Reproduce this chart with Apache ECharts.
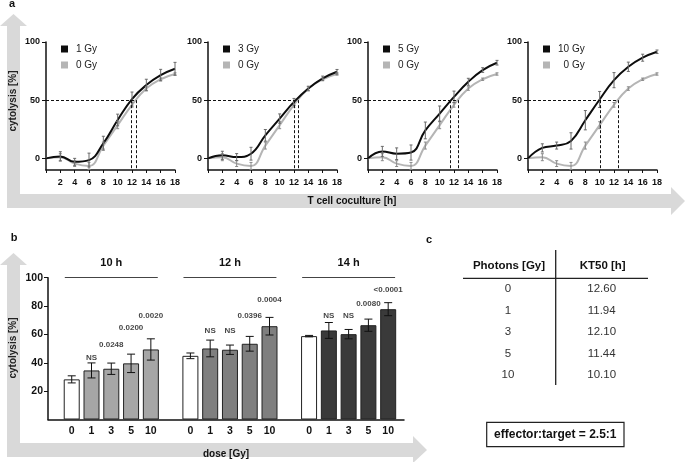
<!DOCTYPE html>
<html>
<head>
<meta charset="utf-8">
<script src="https://cdn.jsdelivr.net/npm/echarts@6/dist/echarts.min.js"></script>
<style>
html, body { margin: 0; padding: 0; background: #fff; }
#chart { width: 685px; height: 462px; }
</style>
</head>
<body>
<div id="chart"></div>
<script>
// ---- panel a: killing kinetics (cytolysis % over coculture time) ----
const hours = [0, 2, 4, 6, 8, 10, 12, 14, 16, 18];
const ctrl0Gy = [0, 1, -4.5, -6.5, 11, 28.5, 46, 60, 68, 72.5];
const ctrl0GyErr = [0, 3, 2.5, 3, 3, 3, 2, 1.5, 1, 1];
const irrDoses = [1, 3, 5, 10];
const irrCurves = [
    [0, 1.7, -3, -1.5, 13, 33, 51, 63, 71.5, 77],
    [0, 2.6, 1.1, 4, 19.8, 34.2, 48.5, 60, 68.7, 74.4],
    [0, 6, 4, 5, 24, 38.5, 52.8, 65.8, 75.9, 82.2],
    [0, 9, 11, 15, 32.8, 50.6, 67.2, 78.7, 86.5, 91.6]
];
const irrErrs = [
    [0, 4, 3, 6, 6, 5, 6, 5, 5, 5.5],
    [0, 3.5, 3, 5.5, 5, 4, 3, 2, 2, 2],
    [0, 4.3, 5, 6.5, 7.2, 6.5, 5, 3, 2, 2],
    [0, 3.5, 3, 7, 8.3, 6.9, 6.5, 4, 3, 1.5]
];

// ---- panel c: KT50 table ----
const tableDoses = [0, 1, 3, 5, 10];
const kt50 = [12.60, 11.94, 12.10, 11.44, 10.10];

// ---- panel b: cytolysis at fixed time points ----
const timePoints = ['10 h', '12 h', '14 h'];
const doseLabels = ['0', '1', '3', '5', '10'];
const barMeans = [
    [28.3, 34.6, 35.8, 39.6, 49.4],
    [44.9, 50.1, 49.2, 53.4, 65.8],
    [58.8, 62.8, 60.2, 66.5, 77.8]
];
const barErrs = [
    [2.5, 5.3, 4, 6.5, 7.5],
    [2, 5.9, 3.3, 5.2, 6.2],
    [0.5, 5.6, 3.3, 4.3, 4.6]
];
const pValues = [
    ['', 'NS', '0.0248', '0.0200', '0.0020'],
    ['', 'NS', 'NS', '0.0396', '0.0004'],
    ['', 'NS', 'NS', '0.0080', '<0.0001']
];
const pValueAt = [
    [null, 43.5, 52.5, 64.6, 73.1],
    [null, 62.3, 62.3, 72.9, 84.2],
    [null, 73.1, 73.1, 81.3, 91.2]
];

const FONT = "'Liberation Sans', Arial, sans-serif";
const groupColors = ['#a6a6a6', '#7f7f7f', '#3a3a3a'];
const arrowGray = '#d9d9d9';

function errorBars(xi, yi, data, color, cap, z) {
    return {
        type: 'custom', xAxisIndex: xi, yAxisIndex: yi, data: data, silent: true, z: z,
        encode: { x: 0, y: [1, 2] },
        renderItem(params, api) {
            const x = api.value(0);
            const a = api.coord([x, api.value(1)]);
            const b = api.coord([x, api.value(2)]);
            const st = { stroke: color, lineWidth: 1 };
            return {
                type: 'group', children: [
                    { type: 'line', shape: { x1: a[0], y1: a[1], x2: b[0], y2: b[1] }, style: st },
                    { type: 'line', shape: { x1: a[0] - cap, y1: a[1], x2: a[0] + cap, y2: a[1] }, style: st },
                    { type: 'line', shape: { x1: b[0] - cap, y1: b[1], x2: b[0] + cap, y2: b[1] }, style: st }
                ]
            };
        }
    };
}

const grids = [], xAxes = [], yAxes = [], series = [], legends = [];
const plotLefts = [46, 208, 368, 528];

irrDoses.forEach((dose, i) => {
    const left = plotLefts[i];
    grids.push({ left: left, top: 42, width: 129, height: 128 });
    xAxes.push({
        type: 'value', gridIndex: i, min: 0, max: 18, interval: 2,
        axisLine: { onZero: false, lineStyle: { color: '#111', width: 1.5 } },
        axisTick: { show: true, length: 3, lineStyle: { color: '#111' } },
        axisLabel: { formatter: v => (v === 0 ? '' : v), fontSize: 9, fontWeight: 'bold', color: '#111', margin: 8, fontFamily: FONT },
        splitLine: { show: false }
    });
    yAxes.push({
        type: 'value', gridIndex: i, min: -10, max: 100,
        axisLine: { show: true, onZero: false, lineStyle: { color: '#111', width: 1.5 } },
        axisTick: { show: true, length: 4, customValues: [0, 50, 100], lineStyle: { color: '#111' } },
        axisLabel: { customValues: [0, 50, 100], fontSize: 9, fontWeight: 'bold', color: '#111', margin: 6, fontFamily: FONT },
        splitLine: { show: false }
    });
    legends.push({
        left: left + 10, top: 38, orient: 'vertical', icon: 'rect',
        itemWidth: 7, itemHeight: 7, itemGap: 4, selectedMode: false,
        data: [dose + ' Gy', '0 Gy'],
        formatter: name => (dose >= 10 && name === '0 Gy' ? '  ' + name : name),
        textStyle: { fontSize: 10, lineHeight: 12, color: '#222', fontFamily: FONT, padding: [0, 0, 0, 3] }
    });
    const kt = kt50[i + 1];
    series.push({
        name: '0 Gy', type: 'line', xAxisIndex: i, yAxisIndex: i,
        data: hours.map((h, k) => [h, ctrl0Gy[k]]),
        smooth: 0.45, showSymbol: false, color: '#b5b5b5',
        lineStyle: { width: 2, color: '#b5b5b5' }, z: 2,
        markLine: {
            silent: true, symbol: 'none', animation: false,
            label: { show: false },
            lineStyle: { type: [3, 2], color: '#111', width: 1 },
            data: [
                [{ coord: [0, 50] }, { coord: [Math.max(kt, kt50[0]), 50] }],
                [{ coord: [kt, 50] }, { coord: [kt, -10] }],
                [{ coord: [kt50[0], 50] }, { coord: [kt50[0], -10] }]
            ]
        }
    });
    series.push({
        name: dose + ' Gy', type: 'line', xAxisIndex: i, yAxisIndex: i,
        data: hours.map((h, k) => [h, irrCurves[i][k]]),
        smooth: 0.45, showSymbol: false, color: '#0d0d0d',
        lineStyle: { width: 2, color: '#0d0d0d' }, z: 3
    });
    const ctrlBars = hours.map((h, k) => [h, ctrl0Gy[k] - ctrl0GyErr[k], ctrl0Gy[k] + ctrl0GyErr[k]])
        .filter((d, k) => ctrl0GyErr[k] > 0);
    const irrBars = hours.map((h, k) => [h, irrCurves[i][k] - irrErrs[i][k], irrCurves[i][k] + irrErrs[i][k]])
        .filter((d, k) => irrErrs[i][k] > 0);
    series.push(errorBars(i, i, ctrlBars, '#8a8a8a', 1.5, 4));
    series.push(errorBars(i, i, irrBars, '#6a6a6a', 1.5, 4));
});

// panel b (grid index 4)
const slot = doseLabels.length + 1;
const barPos = (g, k) => g * slot + k + 1;
const bIdx = 4;
grids.push({ left: 48, top: 277.7, width: 356, height: 141.8 });
const bTicks = [];
timePoints.forEach((t, g) => doseLabels.forEach((d, k) => bTicks.push(barPos(g, k))));
xAxes.push({
    type: 'value', gridIndex: bIdx, min: -0.2, max: 17.8,
    name: 'dose [Gy]', nameLocation: 'middle', nameGap: 30,
    nameTextStyle: { fontSize: 10, fontWeight: 'bold', color: '#111', fontFamily: FONT },
    axisLine: { onZero: false, lineStyle: { color: '#111', width: 1.5 } },
    axisTick: { show: false },
    axisLabel: {
        customValues: bTicks, fontSize: 10.5, fontWeight: 'bold', color: '#111', margin: 6, fontFamily: FONT,
        formatter: v => doseLabels[(Math.round(v) - 1) % slot]
    },
    splitLine: { show: false }
});
yAxes.push({
    type: 'value', gridIndex: bIdx, min: 0, max: 100,
    axisLine: { show: true, onZero: false, lineStyle: { color: '#111', width: 1.5 } },
    axisTick: { show: true, length: 4, customValues: [20, 40, 60, 80, 100], lineStyle: { color: '#111' } },
    axisLabel: { customValues: [20, 40, 60, 80, 100], fontSize: 10.5, fontWeight: 'bold', color: '#111', margin: 5, fontFamily: FONT },
    splitLine: { show: false }
});

const barData = [], barErrData = [], pData = [];
timePoints.forEach((t, g) => {
    doseLabels.forEach((d, k) => {
        const x = barPos(g, k);
        barData.push([x, barMeans[g][k]]);
        barErrData.push([x, barMeans[g][k] - barErrs[g][k], barMeans[g][k] + barErrs[g][k]]);
        if (pValues[g][k]) pData.push({ value: [x, pValueAt[g][k]], name: pValues[g][k] });
    });
});

series.push({
    type: 'bar', xAxisIndex: bIdx, yAxisIndex: bIdx, data: barData, barWidth: 16, z: 2,
    itemStyle: {
        color: p => (p.dataIndex % doseLabels.length === 0 ? '#ffffff' : groupColors[Math.floor(p.dataIndex / doseLabels.length)]),
        borderColor: '#222', borderWidth: 1
    },
    markLine: {
        silent: true, symbol: 'none', animation: false,
        lineStyle: { type: 'solid', color: '#444', width: 1 },
        label: {
            show: true, position: 'insideMiddleTop', distance: 9, formatter: '{b}',
            fontSize: 11, fontWeight: 'bold', color: '#111', fontFamily: FONT
        },
        data: timePoints.map((t, g) => [
            { coord: [barPos(g, 0) - 0.35, 100], name: t },
            { coord: [barPos(g, doseLabels.length - 1) + 0.35, 100] }
        ])
    }
});
series.push(errorBars(bIdx, bIdx, barErrData, '#111', 4, 5));
series.push({
    type: 'scatter', xAxisIndex: bIdx, yAxisIndex: bIdx, data: pData, symbolSize: 0, silent: true,
    label: { show: true, position: 'inside', formatter: '{b}', fontSize: 8, fontWeight: 'bold', color: '#111', fontFamily: FONT }
});

// ---- graphics: arrows, panel letters, table ----
const graphics = [
    {
        type: 'polygon', z: -10, silent: true,
        shape: { points: [[13.5, 14], [27, 26], [20, 26], [20, 194], [671, 194], [671, 187], [685, 201], [671, 215], [671, 208], [7, 208], [7, 26], [0, 26]] },
        style: { fill: arrowGray }
    },
    {
        type: 'polygon', z: -10, silent: true,
        shape: { points: [[13.5, 253], [27, 265], [20, 265], [20, 443], [413, 443], [413, 436], [427, 450], [413, 463], [413, 457], [7, 457], [7, 265], [0, 265]] },
        style: { fill: arrowGray }
    },
    { type: 'text', x: 13.5, y: 101, rotation: Math.PI / 2, style: { text: 'cytolysis [%]', font: 'bold 10px ' + FONT, fill: '#222', align: 'center', verticalAlign: 'middle' } },
    { type: 'text', x: 13.5, y: 348, rotation: Math.PI / 2, style: { text: 'cytolysis [%]', font: 'bold 10px ' + FONT, fill: '#222', align: 'center', verticalAlign: 'middle' } },
    { type: 'text', x: 352, y: 201, style: { text: 'T cell coculture [h]', font: 'bold 10px ' + FONT, fill: '#111', align: 'center', verticalAlign: 'middle' } },
    { type: 'text', x: 12, y: 4, style: { text: 'a', font: 'bold 11px ' + FONT, fill: '#111', align: 'center', verticalAlign: 'middle' } },
    { type: 'text', x: 14, y: 238, style: { text: 'b', font: 'bold 11px ' + FONT, fill: '#111', align: 'center', verticalAlign: 'middle' } },
    { type: 'text', x: 429, y: 240, style: { text: 'c', font: 'bold 11px ' + FONT, fill: '#111', align: 'center', verticalAlign: 'middle' } },
    // table
    { type: 'text', x: 509, y: 266, style: { text: 'Photons [Gy]', font: 'bold 11.5px ' + FONT, fill: '#111', align: 'center', verticalAlign: 'middle' } },
    { type: 'text', x: 602.7, y: 266, style: { text: 'KT50 [h]', font: 'bold 11.5px ' + FONT, fill: '#111', align: 'center', verticalAlign: 'middle' } },
    { type: 'line', shape: { x1: 463, y1: 278.3, x2: 648, y2: 278.3 }, style: { stroke: '#222', lineWidth: 1.3 } },
    { type: 'line', shape: { x1: 555.7, y1: 250, x2: 555.7, y2: 385 }, style: { stroke: '#222', lineWidth: 1.3 } },
    { type: 'rect', shape: { x: 486.7, y: 422.3, width: 137.3, height: 24.4 }, style: { fill: '#fff', stroke: '#222', lineWidth: 1.2 } },
    { type: 'text', x: 555.3, y: 434.5, style: { text: 'effector:target = 2.5:1', font: 'bold 12px ' + FONT, fill: '#111', align: 'center', verticalAlign: 'middle' } }
];
tableDoses.forEach((d, k) => {
    const y = 289.3 + k * 21.35;
    graphics.push({ type: 'text', x: 508, y: y, style: { text: String(d), font: '11.5px ' + FONT, fill: '#333', align: 'center', verticalAlign: 'middle' } });
    graphics.push({ type: 'text', x: 601.7, y: y, style: { text: kt50[k].toFixed(2), font: '11.5px ' + FONT, fill: '#333', align: 'center', verticalAlign: 'middle' } });
});

const chart = echarts.init(document.getElementById('chart'));
chart.setOption({
    animation: false,
    backgroundColor: '#fff',
    textStyle: { fontFamily: FONT },
    grid: grids,
    xAxis: xAxes,
    yAxis: yAxes,
    legend: legends,
    graphic: graphics,
    series: series
});
</script>
</body>
</html>
